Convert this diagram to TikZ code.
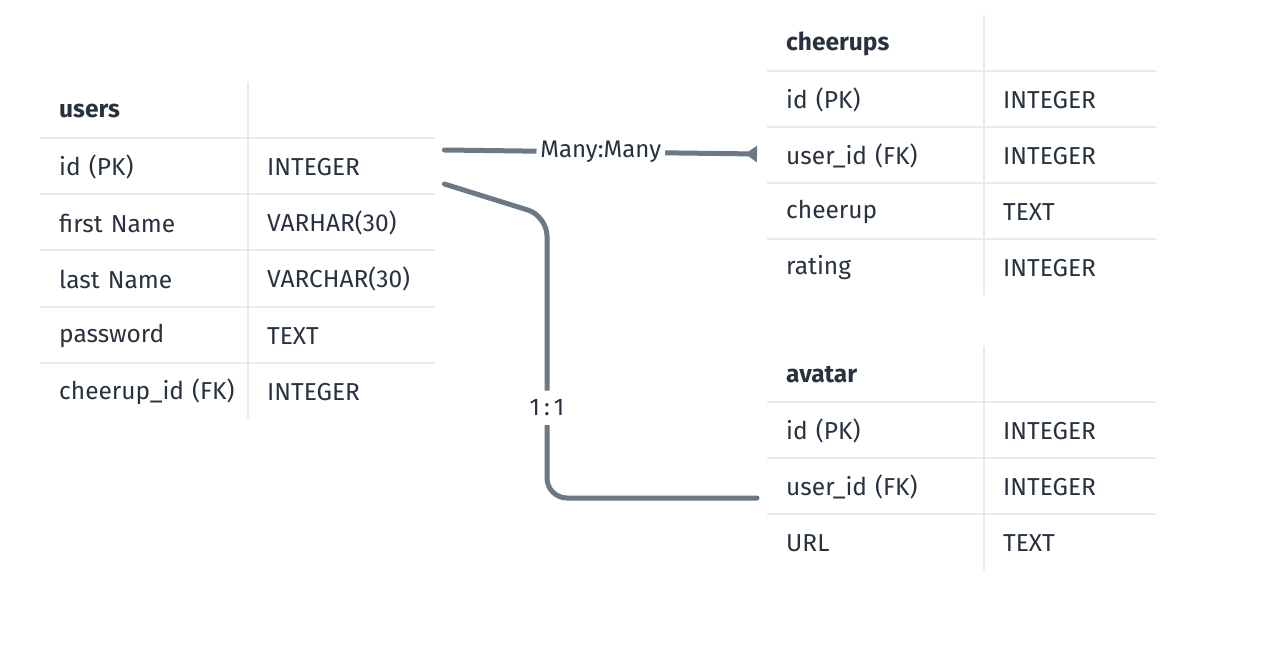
\documentclass[tikz,border=0pt]{standalone}
\usepackage{fontspec}
\setmainfont{Fira Sans}
\usetikzlibrary{arrows.meta}

\definecolor{ink}{HTML}{28323E}
\definecolor{rule}{HTML}{E6EBEF}
\definecolor{link}{HTML}{6B7886}

\tikzset{
  row/.style={anchor=west, minimum height=56pt, inner xsep=19pt, inner ysep=0pt, text width=357pt, align=left, text=ink, font=\fontsize{24.5}{28}\selectfont},
  head/.style={row, font=\fontsize{24.5}{28}\selectfont\bfseries},
  type/.style={anchor=west, inner xsep=0pt, text=ink, font=\fontsize{24.5}{28}\selectfont},
  grid/.style={draw=rule, line width=2pt},
  rel/.style={draw=link, line width=5pt, line cap=round, rounded corners=20pt},
  tag/.style={fill=white, text=ink, inner xsep=4pt, inner ysep=9pt, font=\fontsize{24}{28}\selectfont}
}

\begin{document}
\begin{tikzpicture}[x=1pt,y=-1pt]
\useasboundingbox (0,0) rectangle (1274,671);

% users
\node[head] (U_0) at (40,111) {users};
\node[row] (U_1) at (40,167) {id (PK)};
\node[row] (U_2) at (40,223) {first Name};
\node[row] (U_3) at (40,279) {last Name};
\node[row] (U_4) at (40,336) {password};
\node[row] (U_5) at (40,392) {cheerup\_id (FK)};
\node[type] (U_1t) at (267,167) {INTEGER};
\node[type] (U_2t) at (267,223) {VARHAR(30)};
\node[type] (U_3t) at (267,279) {VARCHAR(30)};
\node[type] (U_4t) at (267,336) {TEXT};
\node[type] (U_5t) at (267,392) {INTEGER};
\draw[grid] (40,138) -- (435,138);
\draw[grid] (40,194) -- (435,194);
\draw[grid] (40,250) -- (435,250);
\draw[grid] (40,307) -- (435,307);
\draw[grid] (40,363) -- (435,363);
\draw[grid] (248,82) -- (248,419);

% cheerups
\node[head, text width=351pt] (C_0) at (767,44) {cheerups};
\node[row, text width=351pt] (C_1) at (767,100) {id (PK)};
\node[row, text width=351pt] (C_2) at (767,156) {user\_id (FK)};
\node[row, text width=351pt] (C_3) at (767,212) {cheerup};
\node[row, text width=351pt] (C_4) at (767,268) {rating};
\node[type] (C_1t) at (1003,100) {INTEGER};
\node[type] (C_2t) at (1003,156) {INTEGER};
\node[type] (C_3t) at (1003,212) {TEXT};
\node[type] (C_4t) at (1003,268) {INTEGER};
\draw[grid] (767,71) -- (1156,71);
\draw[grid] (767,127) -- (1156,127);
\draw[grid] (767,183) -- (1156,183);
\draw[grid] (767,239) -- (1156,239);
\draw[grid] (984,15) -- (984,295);

% avatar
\node[head, text width=351pt] (A_0) at (767,375) {avatar};
\node[row, text width=351pt] (A_1) at (767,431) {id (PK)};
\node[row, text width=351pt] (A_2) at (767,487) {user\_id (FK)};
\node[row, text width=351pt] (A_3) at (767,543) {URL};
\node[type] (A_1t) at (1003,431) {INTEGER};
\node[type] (A_2t) at (1003,487) {INTEGER};
\node[type] (A_3t) at (1003,543) {TEXT};
\draw[grid] (767,402) -- (1156,402);
\draw[grid] (767,458) -- (1156,458);
\draw[grid] (767,514) -- (1156,514);
\draw[grid] (984,346) -- (984,570);

% relations
\draw[rel, -{Triangle[reversed, length=12pt, width=16pt]}] ([shift={(9pt,17pt)}]U_1.east) -- node[tag] {Many:Many} ([shift={(-10pt,2pt)}]C_2.west);
\draw[rel] ([shift={(9pt,-17pt)}]U_1.east) -- (547,216) |- node[tag, pos=0.34] {1\,:\,1} ([shift={(-10pt,-11pt)}]A_2.west);

\end{tikzpicture}
\end{document}
